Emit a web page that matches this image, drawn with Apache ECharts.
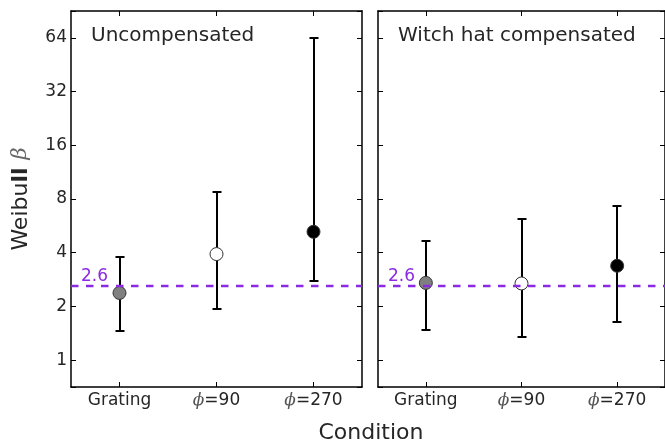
<!DOCTYPE html>
<html><head><meta charset="utf-8">
<script src="https://cdn.jsdelivr.net/npm/echarts@6/dist/echarts.min.js"></script>
<style>html,body{margin:0;padding:0;background:#fff}#c{width:665px;height:443px}</style>
</head><body><div id="c"></div>
<script>
// ---- data ----
const categories = ['Grating', 'ϕ=90', 'ϕ=270'];
const panelTitles = ['Uncompensated', 'Witch hat compensated'];
const yTickValues = [1, 2, 4, 8, 16, 32, 64];
const referenceBeta = 2.6;
const uncompMean = [2.38, 3.93, 5.24];
const uncompLow  = [1.45, 1.93, 2.79];
const uncompHigh = [3.80, 8.75, 63.5];
const compMean = [2.71, 2.69, 3.38];
const compLow  = [1.48, 1.34, 1.64];
const compHigh = [4.67, 6.19, 7.31];
const yMin = Math.SQRT1_2;      // axis range 2^-0.5 .. 2^6.5
const yMax = Math.pow(2, 6.5);

// ---- styles ----
const markerFill = ['#808080', '#ffffff', '#000000'];
const textColor = '#262626';
const FONT = 'DejaVu Sans';
const purple = '#8a2be2';

const chart = echarts.init(document.getElementById('c'), null, {renderer: 'canvas'});

const grids = [
  {left: 71, top: 11, width: 291, height: 376},
  {left: 378, top: 11, width: 291, height: 376}
];

function xAx(gi, pos, showLabel) {
  return {
    type: 'category', gridIndex: gi, position: pos, data: categories,
    boundaryGap: true,
    axisLine: {show: true, lineStyle: {color: '#000', width: 1.5}},
    axisTick: {show: true, inside: true, alignWithLabel: true, interval: 0, length: 5, lineStyle: {color: '#000', width: 1}},
    axisLabel: {
      show: showLabel, interval: 0, margin: 5, color: textColor, fontFamily: FONT, fontSize: 17,
      formatter: v => v.replace('ϕ', '{p|ϕ}'),
      rich: {p: {fontFamily: 'DejaVu Serif', fontStyle: 'italic', fontSize: 17, color: '#555'}}
    },
    splitLine: {show: false}
  };
}
function isTick(v) {
  return yTickValues.some(t => Math.abs(t - v) / t < 1e-6);
}
function yAx(gi, pos, showLabel, withName) {
  const ax = {
    type: 'log', logBase: 2, gridIndex: gi, position: pos, min: yMin, max: yMax,
    axisLine: {show: true, lineStyle: {color: '#000', width: 1.5}},
    axisTick: {show: true, inside: true, length: 5, lineStyle: {color: '#000', width: 1}},
    axisLabel: {
      show: showLabel, margin: 4, color: textColor, fontFamily: FONT, fontSize: 17,
      formatter: v => isTick(v) ? String(Math.round(v)) : ''
    },
    splitLine: {show: false}, minorTick: {show: false}
  };
  if (withName) {
    ax.name = '{n|Weibu}{b|ll}{s| }{g|β}';
    ax.nameLocation = 'middle';
    ax.nameRotate = 90;
    ax.nameGap = 39;
    ax.nameTextStyle = {
      rich: {
        n: {fontFamily: FONT, fontSize: 22, color: textColor},
        b: {fontFamily: FONT, fontSize: 22, fontWeight: 'bold', color: textColor},
        s: {fontFamily: FONT, fontSize: 22, width: 8},
        g: {fontFamily: 'DejaVu Serif', fontStyle: 'italic', fontSize: 21, color: '#666'}
      }
    };
  }
  return ax;
}

function errorRender(params, api) {
  const lo = api.coord([api.value(0), api.value(1)]);
  const hi = api.coord([api.value(0), api.value(2)]);
  const x = Math.round(lo[0]);
  const yl = Math.round(lo[1]), yh = Math.round(hi[1]);
  const cap = 4.5;
  const st = {stroke: '#000', lineWidth: 2};
  return {type: 'group', children: [
    {type: 'line', shape: {x1: x, y1: yl, x2: x, y2: yh}, style: st},
    {type: 'line', shape: {x1: x - cap, y1: yl, x2: x + cap, y2: yl}, style: st},
    {type: 'line', shape: {x1: x - cap, y1: yh, x2: x + cap, y2: yh}, style: st}
  ]};
}

function panelSeries(xi, yi, mean, low, high) {
  return [
    {
      type: 'line', xAxisIndex: xi, yAxisIndex: yi, data: [], silent: true, z: 1,
      markLine: {
        silent: true, symbol: ['none', 'none'],
        lineStyle: {color: purple, width: 2.3, type: [7.5, 7.5], opacity: 1},
        label: {show: true, position: 'insideStartTop', distance: [10, 1], formatter: String(referenceBeta),
                color: purple, fontFamily: FONT, fontSize: 17},
        data: [{yAxis: referenceBeta}]
      }
    },
    {
      type: 'custom', xAxisIndex: xi, yAxisIndex: yi, z: 2,
      renderItem: errorRender,
      encode: {x: 0, y: [1, 2]},
      data: categories.map((c, i) => [i, low[i], high[i]])
    },
    {
      type: 'scatter', xAxisIndex: xi, yAxisIndex: yi, z: 3, symbol: 'circle', symbolSize: 13,
      data: categories.map((c, i) => ({value: [i, mean[i]], itemStyle: {color: markerFill[i], borderColor: '#333', borderWidth: 1, opacity: 1}}))
    }
  ];
}

const option = {
  animation: false,
  backgroundColor: '#fff',
  grid: grids,
  xAxis: [xAx(0, 'bottom', true), xAx(0, 'top', false), xAx(1, 'bottom', true), xAx(1, 'top', false)],
  yAxis: [yAx(0, 'left', true, true), yAx(0, 'right', false, false), yAx(1, 'left', false, false), yAx(1, 'right', false, false)],
  series: [
    ...panelSeries(0, 0, uncompMean, uncompLow, uncompHigh),
    ...panelSeries(2, 2, compMean, compLow, compHigh)
  ],
  graphic: [
    {type: 'text', left: 91, top: 26, style: {text: panelTitles[0], fill: textColor, font: '20px "DejaVu Sans"'}},
    {type: 'text', left: 398, top: 26, style: {text: panelTitles[1], fill: textColor, font: '20px "DejaVu Sans"'}},
    {type: 'text', x: 371, y: 433, style: {text: 'Condition', fill: textColor, font: '22px "DejaVu Sans"', align: 'center', verticalAlign: 'middle'}}
  ]
};
chart.setOption(option);
</script>
</body></html>
